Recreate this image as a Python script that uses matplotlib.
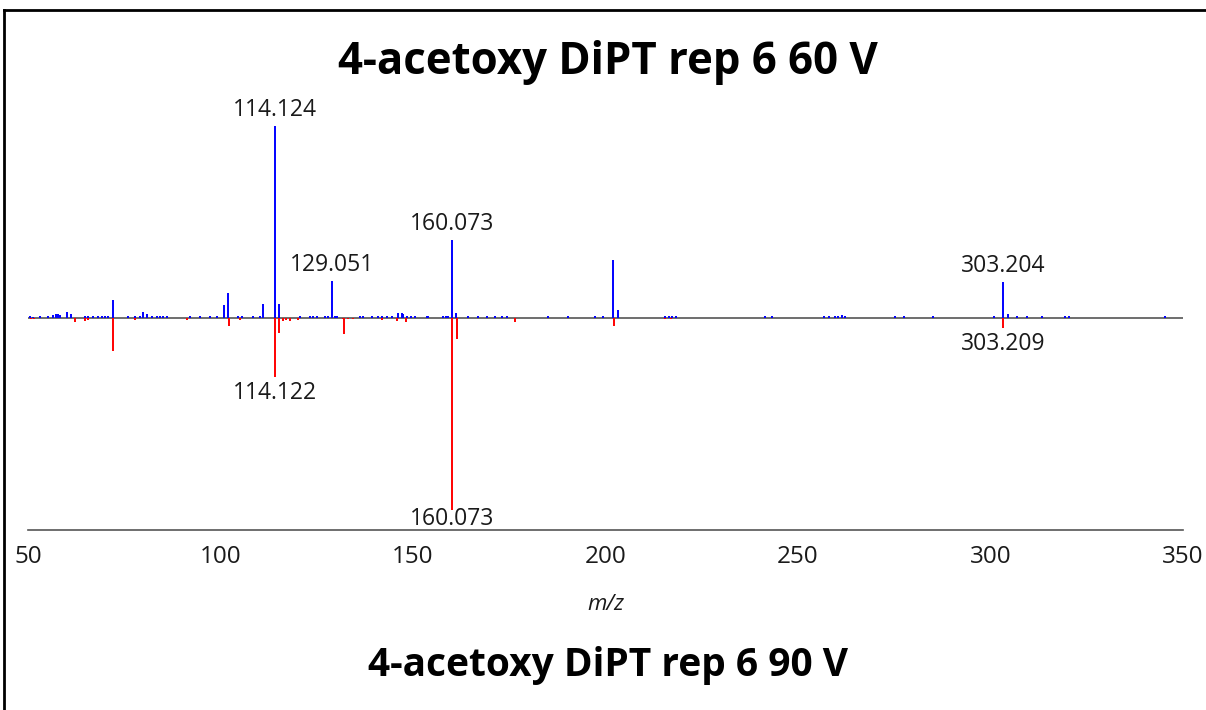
import matplotlib
matplotlib.use('Agg')
import matplotlib.pyplot as plt
from matplotlib.lines import Line2D
import numpy as np

plt.rcParams['font.family'] = ['Open Sans', 'DejaVu Sans']

# espectro 60 V (azul, para cima)
mz_60 = [72.1, 100.9, 102.0, 111.1, 114.124, 115.1, 129.051, 160.073, 161.2,
         202.0, 203.3, 303.204, 304.5,
         50.5, 51.4, 53.1, 55.3, 56.6, 57.3, 57.9, 58.3, 60.1, 61.1, 64.8, 65.7,
         67.0, 68.3, 69.1, 70.0, 70.9, 76.0, 77.8, 79.1, 80.0, 80.8, 82.1, 83.4,
         84.3, 85.1, 86.0, 92.1, 94.7, 97.3, 99.0, 104.5, 105.5, 108.4, 110.3,
         120.6, 123.2, 124.0, 125.0, 127.1, 127.9, 129.7, 130.2, 136.2, 137.0,
         139.3, 140.9, 142.0, 143.3, 144.5, 146.1, 147.1, 147.4, 148.4, 149.5,
         150.5, 153.6, 153.9, 157.8, 158.5, 159.1, 164.3, 166.9, 169.1, 171.3,
         173.0, 174.3, 185.1, 190.3, 197.3, 199.4, 215.5, 216.4, 217.3, 218.3,
         241.4, 243.2, 256.8, 258.0, 259.5, 260.5, 261.3, 262.2, 275.2, 277.5,
         285.0, 301.0, 307.0, 309.5, 313.4, 319.4, 320.3, 345.3]
int_60 = [9.2, 6.9, 13.0, 7.4, 100, 7.4, 19.3, 40.6, 2.6,
          30.2, 4.0, 19.0, 2.2,
          0.8, 0.6, 0.8, 1.0, 1.5, 2.0, 2.0, 1.8, 3.0, 2.0, 0.8, 0.8,
          0.8, 0.8, 0.8, 0.8, 0.8, 0.8, 1.0, 1.0, 3.0, 2.0, 1.2, 1.2,
          1.0, 1.0, 1.0, 0.8, 0.8, 0.8, 1.0, 1.0, 1.0, 1.0, 0.8,
          0.8, 0.8, 0.8, 0.8, 0.8, 0.8, 1.0, 1.0, 0.8, 0.8,
          0.8, 0.8, 0.8, 1.0, 1.0, 2.5, 2.5, 2.0, 1.0, 1.0,
          1.0, 0.8, 0.8, 0.8, 0.8, 1.0, 0.8, 0.8, 0.8, 0.8,
          0.8, 0.8, 0.8, 0.8, 0.8, 0.8, 0.8, 0.8, 0.8, 0.8,
          0.8, 0.8, 0.8, 0.8, 1.0, 0.8, 1.5, 0.8, 0.8, 0.8,
          0.8, 0.8, 0.8, 0.8, 0.8, 1.0, 1.0, 0.8]

# espectro 90 V (vermelho, para baixo)
mz_90 = [72.1, 102.2, 114.122, 115.3, 116.2, 117.0, 118.0, 132.2, 148.2,
         160.073, 161.3, 176.5, 202.3, 303.209,
         50.8, 51.5, 62.3, 64.8, 65.7, 77.8, 91.2, 105.0, 120.1, 131.8,
         133.0, 134.4, 141.9, 145.8, 215.5, 217.0]
int_90 = [17.4, 4.4, 30.7, 7.8, 1.5, 1.2, 1.5, 8.4, 2.0,
          100, 11.0, 2.3, 4.4, 5.2,
          0.6, 0.6, 2.0, 1.5, 1.0, 0.8, 1.0, 1.0, 0.8, 0.6,
          0.6, 0.6, 1.0, 1.5, 0.6, 0.6]

rotulos_60 = ['114.124', '129.051', '160.073', '303.204']
rotulos_90 = ['114.122', '160.073', '303.209']

fig = plt.figure(figsize=(12.06, 7.10), dpi=100)
ax = fig.add_axes([28 / 1206, 0.2535, 1155 / 1206, 0.5961])

ax.vlines(mz_60, 0, int_60, color='#0000ff', linewidth=1.4)
ax.vlines(mz_90, 0, -np.array(int_90), color='#ff0000', linewidth=1.4)
ax.axhline(0, color='#555555', linewidth=1.2, zorder=0)

for r in rotulos_60:
    i = mz_60.index(float(r))
    ax.text(float(r), int_60[i] + 2, r, ha='center', va='bottom', fontsize=16.5, color='#1a1a1a')
for r in rotulos_90:
    i = mz_90.index(float(r))
    desloc = 1.5 if int_90[i] > 90 else -2
    ax.text(float(r), -int_90[i] + desloc, r, ha='center', va='top', fontsize=16.5, color='#1a1a1a')

ax.set_xlim(50, 350)
ax.set_ylim(-110.4, 110)
ax.set_xticks(np.arange(50, 351, 50))
ax.tick_params(axis='x', which='major', length=0, labelsize=17.5, pad=11, labelcolor='#1a1a1a')
ax.set_xticks([50, 150, 250, 350], minor=True)
ax.tick_params(axis='x', which='minor', length=5, width=1.2, color='#555555')
ax.set_yticks([])
for s in ['top', 'right', 'left']:
    ax.spines[s].set_visible(False)
ax.spines['bottom'].set_color('#555555')
ax.spines['bottom'].set_linewidth(1.2)
ax.set_xlabel('m/z', fontstyle='italic', fontsize=16, labelpad=18, color='#1a1a1a')

fig.text(0.504, 0.912, '4-acetoxy DiPT rep 6 60 V', ha='center', va='center',
         fontsize=31.5, fontweight='bold')
fig.text(0.504, 0.063, '4-acetoxy DiPT rep 6 90 V', ha='center', va='center',
         fontsize=28, fontweight='bold')

# moldura
fig.add_artist(Line2D([4 / 1206, 4 / 1206], [0, 1 - 10 / 710], color='black', linewidth=2))
fig.add_artist(Line2D([4 / 1206, 1], [1 - 10 / 710, 1 - 10 / 710], color='black', linewidth=2))

fig.savefig('out.png', dpi=100)
